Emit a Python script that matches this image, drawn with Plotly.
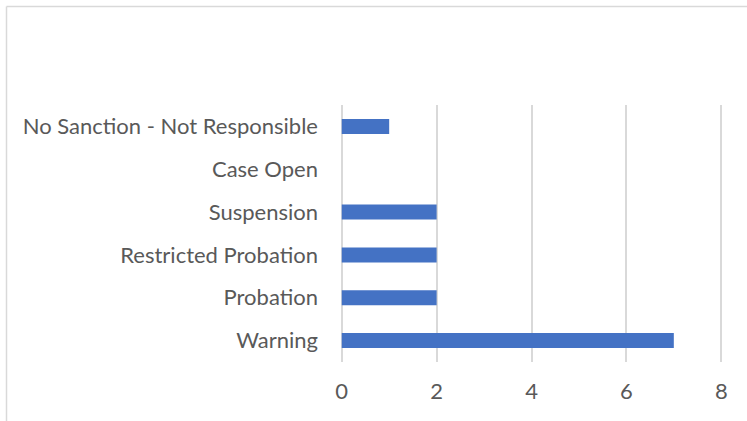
import plotly.graph_objects as go

categories = ["Warning", "Probation", "Restricted Probation", "Suspension",
              "Case Open", "No Sanction - Not Responsible"]
counts = [7, 2, 2, 2, 0, 1]
x_ticks = [0, 2, 4, 6, 8]

W, H = 747, 421
L, R, T, B = 337, 21, 105, 59

fig = go.Figure(go.Bar(
    x=counts, y=categories, orientation="h",
    marker=dict(color="#4472C4", line=dict(width=0)),
    width=0.35,
))

pw = W - L - R
ph = H - T - B
def px_x(p):
    return (p - L) / pw
def px_y(p):
    return (H - B - p) / ph

border = dict(color="#D9D9D9", width=1.5)
fig.add_shape(type="line", xref="paper", yref="paper",
              x0=px_x(6.5), x1=px_x(748), y0=px_y(6.5), y1=px_y(6.5), line=border)
fig.add_shape(type="line", xref="paper", yref="paper",
              x0=px_x(6.5), x1=px_x(6.5), y0=px_y(6.5), y1=px_y(422), line=border)

fig.update_layout(
    width=W, height=H,
    margin=dict(l=L, r=R, t=T, b=B),
    paper_bgcolor="white", plot_bgcolor="white",
    font=dict(family="Lato, 'Open Sans', sans-serif", size=22, color="#595959"),
    showlegend=False,
    xaxis=dict(range=[-0.1, 8.1], tickvals=x_ticks, showgrid=True,
               gridcolor="#D9D9D9", gridwidth=1.5, zeroline=False,
               showline=False, ticks="", ticklabelstandoff=14),
    yaxis=dict(categoryorder="array", categoryarray=categories,
               showgrid=False, showline=False, ticks="", zeroline=False,
               ticklabelstandoff=18),
)

fig.write_html("out.html", config={"displayModeBar": False},
               post_script="document.body.style.margin='0';")
